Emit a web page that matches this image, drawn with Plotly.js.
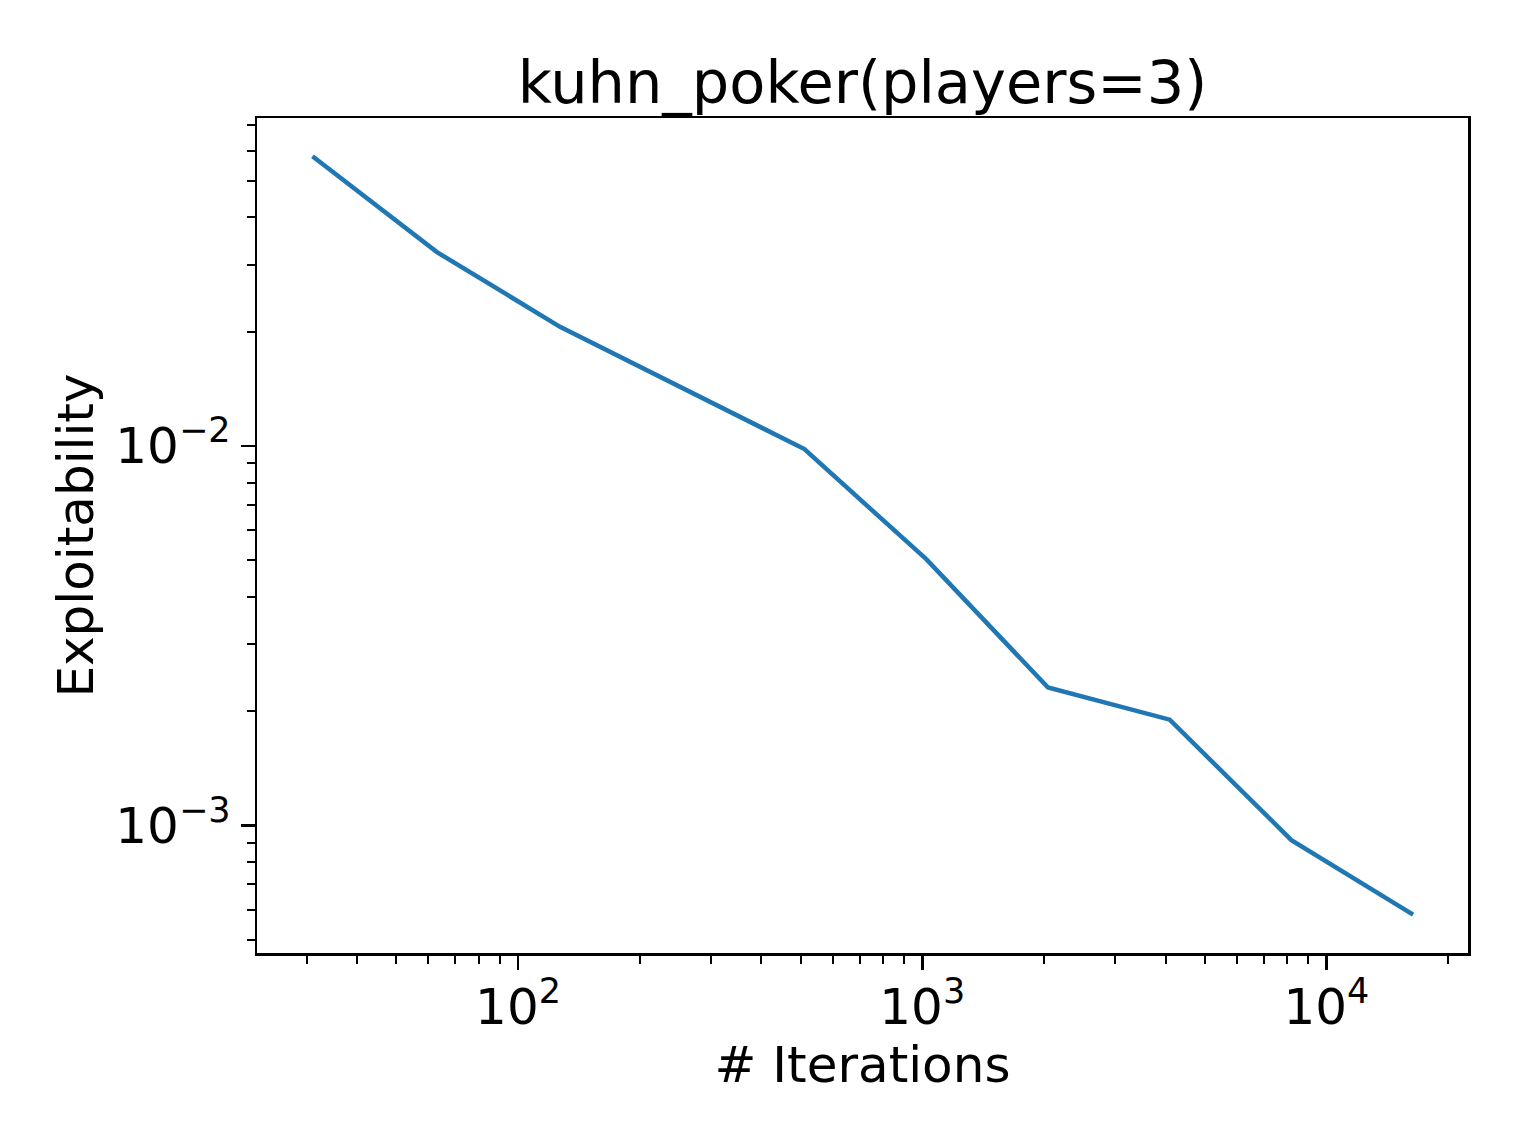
<!DOCTYPE html>
<html>
<head>
<meta charset="utf-8">
<script src="https://cdn.plot.ly/plotly-3.0.1.min.js"></script>
<style>
  body { margin: 0; background: #fff; }
  #chart { width: 1522px; height: 1141px; }
</style>
</head>
<body>
<div id="chart"></div>
<script>
// iterations vs exploitability
const iterations = [31, 63, 127, 255, 511, 1023, 2047, 4095, 8191, 16383];
const exploitability = [0.0580, 0.0324, 0.0206, 0.0142, 0.00981, 0.00503, 0.00231, 0.00190, 0.000915, 0.000582];

const xTickVals = [100, 1000, 10000];
const xTickText = ['10<sup>2</sup>', '10<sup>3</sup>', '10<sup>4</sup>'];
const yTickVals = [0.01, 0.001];
const yTickText = ['10<sup>\u22122</sup>', '10<sup>\u22123</sup>'];

function minorTicks(fromExp, toExp) {
    const vals = [];
    for (let e = fromExp; e <= toExp; e++) {
        for (let d = 2; d <= 9; d++) vals.push(d * Math.pow(10, e));
    }
    return vals;
}

function drawLineChart(xs, ys) {

    const data = [{
        x: xs,
        y: ys,
        type: 'scatter',
        mode: 'lines',
        line: { color: '#1f77b4', width: 4.5 },
        showlegend: false
    }];

    const axisCommon = {
        type: 'log',
        showgrid: false,
        zeroline: false,
        showline: true,
        mirror: true,
        linecolor: '#000',
        linewidth: 2.5,
        ticks: 'outside',
        ticklen: 14,
        tickwidth: 2.5,
        tickcolor: '#000',
        tickmode: 'array',
        tickfont: { family: 'DejaVu Sans', size: 50, color: '#000' }
    };

    const layout = {
        width: 1522,
        height: 1141,
        paper_bgcolor: '#fff',
        plot_bgcolor: '#fff',
        font: { family: 'DejaVu Sans', color: '#000' },
        title: {
            text: 'kuhn_poker(players=3)',
            font: { family: 'DejaVu Sans', size: 59, color: '#000' },
            x: 0.5667, xanchor: 'center',
            y: 0.928, yref: 'container', yanchor: 'middle'
        },
        xaxis: Object.assign({}, axisCommon, {
            range: [Math.log10(22.6), Math.log10(22400)],
            tickvals: xTickVals,
            ticktext: xTickText,
            ticklabelstandoff: -6,
            minor: { tickmode: 'array', tickvals: minorTicks(1, 4), ticks: 'outside', ticklen: 8, tickwidth: 2, tickcolor: '#000' },
            title: { text: '# Iterations', font: { family: 'DejaVu Sans', size: 50, color: '#000' }, standoff: 3 }
        }),
        yaxis: Object.assign({}, axisCommon, {
            range: [-3.336, -1.136],
            tickvals: yTickVals,
            ticktext: yTickText,
            minor: { tickmode: 'array', tickvals: minorTicks(-4, -2), ticks: 'outside', ticklen: 8, tickwidth: 2, tickcolor: '#000' },
            title: { text: 'Exploitability', font: { family: 'DejaVu Sans', size: 50, color: '#000' }, standoff: 6 }
        }),
        margin: { l: 257, r: 54, t: 118, b: 188 }
    };

    Plotly.newPlot('chart', data, layout, { displayModeBar: false, staticPlot: true });
}

drawLineChart(iterations, exploitability);
</script>
</body>
</html>
